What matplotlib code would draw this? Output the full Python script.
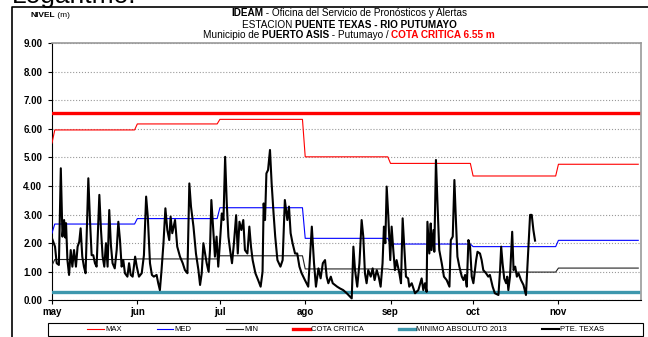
import numpy as np
import matplotlib.pyplot as plt
from matplotlib.lines import Line2D
from matplotlib.patches import Rectangle

plt.rcParams['font.family'] = ['Liberation Sans', 'DejaVu Sans']

W, H = 648, 337

# dias contados desde el 1 de mayo
meses = ['may', 'jun', 'jul', 'ago', 'sep', 'oct', 'nov']
inicio_mes = [0, 31, 61, 92, 123, 153, 184]
ultimo_dia = 213

# niveles historicos mensuales (m)
nivel_max = [5.96, 6.17, 6.33, 5.02, 4.79, 4.35, 4.76]
nivel_med = [2.67, 2.86, 3.24, 2.17, 1.97, 1.88, 2.10]
nivel_min = [1.43, 1.45, 1.56, 1.10, 1.08, 0.99, 1.13]
primer_max, primer_med, primer_min = 5.50, 2.35, 1.22

cota_critica = 6.55
minimo_absoluto = 0.31

# lecturas de la estacion PTE. TEXAS (dia, nivel)
dias = [0.0, 1.1, 1.7, 2.5, 3.2, 3.8, 4.4, 4.8, 5.1, 5.6, 6.2, 6.8, 7.4, 8.0, 8.7,
        9.3, 9.9, 10.4, 11.0, 11.6, 12.2, 13.2, 13.8, 14.4, 15.0, 15.6, 16.2, 17.2,
        17.8, 18.4, 19.0, 19.6, 20.2, 20.8, 21.4, 22.0, 22.8, 23.5, 24.1, 24.7, 25.3,
        25.9, 26.5, 27.4, 28.0, 28.6, 29.3, 30.2, 30.8, 31.6, 32.6, 33.4, 34.2, 34.8,
        35.6, 36.3, 37.0, 38.0, 38.6, 39.2, 39.8, 40.5, 41.2, 41.9, 42.6, 43.1, 43.7,
        44.7, 45.5, 46.5, 47.5, 48.3, 49.2, 49.9, 50.5, 51.4, 52.3, 53.2, 53.8, 54.4,
        55.0, 55.6, 56.2, 56.9, 57.4, 57.9, 58.6, 59.2, 59.8, 60.4, 61.0, 61.7, 62.3,
        62.9, 63.5, 64.1, 64.7, 65.4, 66.1, 66.9, 67.5, 68.1, 68.8, 69.5, 70.1, 71.0,
        71.7, 72.3, 72.9, 73.9, 74.9, 75.8, 76.5, 76.9, 77.4, 77.9, 78.5, 79.2, 79.8,
        80.5, 81.1, 81.9, 83.0, 83.8, 84.6, 85.5, 86.1, 86.7, 87.4, 88.3, 89.1, 89.9,
        90.7, 91.9, 93.1, 94.4, 95.2, 95.9, 96.8, 97.6, 98.4, 99.2, 99.8, 100.4, 101.3,
        102.0, 102.8, 103.6, 104.6, 105.8, 107.1, 108.3, 108.9, 109.5, 110.1, 110.9,
        111.7, 112.5, 113.1, 113.7, 114.3, 114.9, 115.8, 116.5, 117.2, 118.0, 118.7,
        119.4, 120.1, 120.6, 121.1, 121.6, 122.2, 122.9, 123.4, 124.0, 124.6, 125.2,
        126.2, 126.8, 127.4, 128.0, 128.6, 129.4, 129.8, 130.7, 131.9, 133.1, 134.3,
        134.9, 135.5, 136.1, 136.4, 137.1, 137.6, 137.9, 138.6, 138.9, 139.5, 140.1,
        140.7, 141.6, 142.4, 143.4, 144.4, 144.9, 145.6, 146.2, 146.7, 147.3, 148.0,
        148.9, 149.5, 150.1, 150.7, 151.3, 151.9, 152.5, 153.1, 154.1, 154.6, 155.5,
        156.1, 156.7, 157.7, 158.5, 159.1, 160.1, 160.9, 162.2, 162.8, 163.2, 163.7,
        164.3, 165.0, 165.4, 165.8, 166.4, 167.2, 167.7, 168.3, 168.9, 169.5, 170.4,
        171.3, 172.2, 173.1, 173.7, 174.3, 174.9, 175.5]
nivel = [2.17, 1.88, 1.30, 1.24, 4.62, 2.23, 2.81, 2.20, 2.70, 1.41, 0.89, 1.76, 1.18, 1.76, 1.18,
         1.88, 2.05, 2.52, 1.53, 1.18, 0.95, 4.27, 2.80, 1.58, 1.58, 1.30, 1.18, 3.69,
         2.46, 1.53, 1.18, 2.00, 1.18, 3.16, 1.94, 1.30, 1.12, 1.76, 2.75, 2.11, 1.18,
         1.41, 0.95, 0.83, 1.30, 0.89, 0.83, 1.53, 1.18, 0.83, 0.95, 1.58, 3.63, 2.93,
         1.30, 0.89, 0.83, 0.89, 0.60, 0.36, 1.06, 2.00, 3.22, 2.46, 2.11, 2.93, 2.35,
         2.81, 1.88, 1.53, 1.30, 1.06, 0.95, 4.09, 3.28, 2.58, 1.64, 1.06, 0.54, 0.95,
         2.00, 1.64, 1.30, 1.00, 1.76, 3.51, 2.46, 1.53, 2.23, 1.18, 2.00, 3.04, 2.81,
         5.02, 3.39, 2.23, 1.76, 1.30, 2.00, 2.98, 1.64, 2.75, 2.46, 2.81, 1.76, 1.64,
         2.58, 1.88, 1.41, 0.95, 0.71, 0.48, 1.00, 3.39, 2.81, 4.44, 4.56, 5.26, 4.09,
         3.04, 2.23, 1.41, 1.18, 1.41, 3.51, 2.81, 3.28, 2.35, 2.00, 1.64, 1.64, 1.18,
         0.95, 0.71, 0.48, 2.58, 1.30, 0.48, 1.12, 0.77, 1.30, 1.41, 0.83, 0.60, 0.83,
         0.60, 0.54, 0.48, 0.42, 0.36, 0.25, 0.13, 0.07, 1.88, 1.06, 0.48,
         1.30, 2.81, 2.23, 0.95, 0.60, 1.06, 0.83, 1.12, 0.71, 1.06, 0.83,
         0.48, 1.30, 2.58, 2.00, 3.98, 2.93, 1.41, 2.58, 1.76, 1.06, 1.41,
         0.95, 0.60, 2.87, 1.88, 0.83, 0.77, 0.48, 0.60, 0.25, 0.36, 0.77,
         0.36, 0.60, 0.30, 2.75, 1.64, 2.69, 1.76, 2.46, 1.70, 4.91, 3.28,
         1.76, 1.30, 0.83, 0.71, 0.48, 2.11, 2.23, 4.21, 2.93, 1.53, 1.18,
         0.83, 0.71, 0.89, 0.48, 2.11, 1.88, 0.83, 0.60, 1.41, 1.70, 1.64,
         1.41, 1.06, 0.95, 0.83, 0.89, 0.48, 0.25, 0.19, 1.06, 1.88, 1.30,
         0.77, 0.60, 0.83, 0.36, 0.83, 2.40, 1.06, 1.18, 0.83, 0.95, 0.71,
         0.54, 0.19, 1.88, 2.99, 2.99, 2.46, 2.09]


def serie_diaria(mensual, primero):
    d = np.arange(ultimo_dia + 1)
    idx = np.searchsorted(inicio_mes, d, side='right') - 1
    s = np.array(mensual)[idx]
    s[0] = primero
    return d, s


fig = plt.figure(figsize=(W / 100, H / 100), dpi=100)
ax = fig.add_axes([52 / W, 1 - 300.4 / H, 589 / W, (300.4 - 43) / H])

d, s_max = serie_diaria(nivel_max, primer_max)
_, s_med = serie_diaria(nivel_med, primer_med)
_, s_min = serie_diaria(nivel_min, primer_min)

ax.plot(d, s_max, color='#ff0000', lw=0.8, zorder=3)
ax.plot(d, s_med, color='#0000ff', lw=0.8, zorder=3)
ax.plot(d, s_min, color='#222222', lw=0.8, zorder=3)
ax.plot([0, ultimo_dia], [cota_critica] * 2, color='#ff0000', lw=2.4, zorder=3)
ax.plot([0, ultimo_dia], [minimo_absoluto] * 2, color='#3d97ad', lw=2.4, zorder=3)
ax.plot(dias, nivel, color='black', lw=1.5, zorder=4)

ax.set_xlim(0, 214)
ax.set_ylim(0, 9)
ax.set_yticks(np.arange(0, 10, 1))
ax.set_yticklabels(['%.2f' % v for v in range(10)], fontsize=7, fontweight='bold')
ax.set_xticks(inicio_mes)
ax.set_xticklabels(meses, fontsize=7, fontweight='bold')
ax.tick_params(axis='both', direction='out', length=3, width=0.8, pad=2)
ax.tick_params(axis='y', pad=4)
ax.grid(axis='y', linestyle=':', color='#999999', lw=0.8)
ax.set_axisbelow(True)
for lado in ['left', 'bottom']:
    ax.spines[lado].set_color('black')
    ax.spines[lado].set_linewidth(0.8)
for lado in ['top', 'right']:
    ax.spines[lado].set_color('#999999')
    ax.spines[lado].set_linewidth(1.2)

# marco exterior
fig.add_artist(Line2D([12 / W, 12 / W, 1], [0, 1 - 7.3 / H, 1 - 7.3 / H],
                      transform=fig.transFigure, color='black', lw=1.2))
fig.text(12 / W, 1 - 3.5 / H, 'Logaritmo.', fontsize=19, va='baseline', ha='left')

# titulo con partes en negrilla
r = fig.canvas.get_renderer()


def linea(partes, y_px, x_centro=349, size=7.2):
    textos = []
    for txt, peso, color in partes:
        textos.append(fig.text(0, 1 - y_px / H, txt, fontsize=size, fontweight=peso,
                               color=color, va='center', ha='left'))
    anchos = [t.get_window_extent(r).width for t in textos]
    x = x_centro - sum(anchos) / 2
    for t, w in zip(textos, anchos):
        t.set_x(x / W)
        x += w


linea([('IDEAM', 'bold', 'black'),
       (' - Oficina del Servicio de Pronósticos y Alertas', 'normal', 'black')], 13)
linea([('ESTACION ', 'normal', 'black'),
       ('PUENTE TEXAS - RIO PUTUMAYO', 'bold', 'black')], 24.5)
linea([('Municipio de ', 'normal', 'black'), ('PUERTO ASIS', 'bold', 'black'),
       (' - Putumayo / ', 'normal', 'black'),
       ('COTA CRITICA 6.55 m', 'bold', '#ff0000')], 35.5)
linea([('NIVEL', 'bold', 'black'), (' (m)', 'normal', 'black')], 15.5, x_centro=50, size=6)

# leyenda
handles = [Line2D([], [], color='#ff0000', lw=0.8),
           Line2D([], [], color='#0000ff', lw=0.8),
           Line2D([], [], color='#222222', lw=0.8),
           Line2D([], [], color='#ff0000', lw=2.4),
           Line2D([], [], color='#3d97ad', lw=2.4),
           Line2D([], [], color='black', lw=1.5)]
etiquetas = ['MAX', 'MED', 'MIN', 'COTA CRITICA', 'MINIMO ABSOLUTO 2013', 'PTE. TEXAS']
fig.legend(handles, etiquetas, loc='center', bbox_to_anchor=(345.5 / W, 1 - 329.5 / H),
           ncol=6, frameon=False, fontsize=5.5, handlelength=2.2, handletextpad=0.1,
           columnspacing=4.6, borderpad=0)
fig.add_artist(Rectangle((47.7 / W, 1 - 336 / H), (642.5 - 47.7) / W, (336 - 323) / H,
                         transform=fig.transFigure, fill=False, edgecolor='black', lw=0.8))

fig.savefig('out.png', dpi=100)
